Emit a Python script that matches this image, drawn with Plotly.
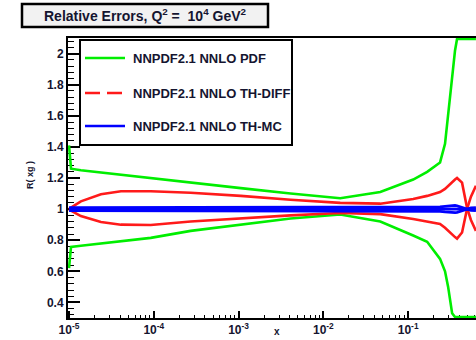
import numpy as np
import plotly.graph_objects as go

# ---- data -------------------------------------------------------------
x_vals = [1.0e-5, 1.056e-5, 1.38e-5, 2.38e-5, 4.1e-5, 9.2e-5, 2.72e-4,
          1.06e-3, 4.1e-3, 1.58e-2, 4.69e-2, 0.1146, 0.1675, 0.2377,
          0.272, 0.296, 0.330, 0.357, 0.377, 0.432, 0.494, 0.55, 0.63]

pdf_up = [1.41, 1.26, 1.25, 1.235, 1.22, 1.20, 1.17, 1.135, 1.10, 1.07,
          1.11, 1.19, 1.24, 1.30, 1.42, 1.62, 1.83, 2.02, 2.15, 2.6, 3.2,
          3.8, 4.5]
pdf_dn = [0.62, 0.757, 0.765, 0.78, 0.795, 0.815, 0.86, 0.90, 0.94, 0.965,
          0.92, 0.83, 0.79, 0.68, 0.60, 0.50, 0.33, 0.22, 0.15, 0.05, 0.0,
          0.0, 0.0]

diff_up = [1.0, 1.01, 1.05, 1.095, 1.115, 1.115, 1.105, 1.085, 1.06, 1.04,
           1.035, 1.065, 1.085, 1.11, 1.13, 1.15, 1.175, 1.19, 1.20, 1.17,
           1.01, 0.93, 0.86]
diff_dn = [1.0, 0.99, 0.955, 0.917, 0.90, 0.898, 0.92, 0.94, 0.96, 0.975,
           0.968, 0.936, 0.92, 0.904, 0.88, 0.86, 0.835, 0.82, 0.81, 0.85,
           1.0, 1.08, 1.15]

mc_cv = [1.0] * len(x_vals)
mc_err = [0.010, 0.010, 0.010, 0.010, 0.010, 0.010, 0.010, 0.010, 0.010,
          0.010, 0.010, 0.010, 0.011, 0.014, 0.018, 0.021, 0.023, 0.023,
          0.021, 0.012, 0.0, 0.008, 0.010]

legend_labels = ["NNPDF2.1 NNLO PDF", "NNPDF2.1 NNLO TH-DIFF",
                 "NNPDF2.1 NNLO TH-MC"]
title_text = "Relative Errors, Q<sup>2</sup> =  10<sup>4</sup> GeV<sup>2</sup>"
x_ticks = [1e-5, 1e-4, 1e-3, 1e-2, 1e-1]
x_tick_text = ["10<sup>-5</sup>", "10<sup>-4</sup>", "10<sup>-3</sup>",
               "10<sup>-2</sup>", "10<sup>-1</sup>"]
y_ticks = [0.4, 0.6, 0.8, 1.0, 1.2, 1.4, 1.6, 1.8, 2.0]
y_tick_text = ["0.4", "0.6", "0.8", "1", "1.2", "1.4", "1.6", "1.8", "2"]

# ---- geometry -----------------------------------------------------------
W, H = 476, 340
Y_MIN, Y_MAX = 0.3, 2.1
X_LOG_MIN, X_LOG_MAX = -5.012, -0.2
x_minor = [k * 10.0 ** e for e in range(-5, 0) for k in range(2, 10)]


def px(x):
    return x / W


def py(y):
    return 1 - y / H


def clip(vals):
    # values outside the frame are drawn along its edge
    inset = 0.006
    return np.clip(np.asarray(vals, float), Y_MIN + inset, Y_MAX - inset)


GREEN, RED, BLUE = "#00ee00", "#ff1a1a", "#0000ff"
FONT = "Liberation Sans"
TXT = "#151530"

fig = go.Figure()
for vals in (pdf_up, pdf_dn):
    fig.add_trace(go.Scatter(x=x_vals, y=clip(vals), mode="lines",
                             line=dict(color=GREEN, width=2.6),
                             showlegend=False, hoverinfo="skip"))
for vals in (diff_up, diff_dn):
    fig.add_trace(go.Scatter(x=x_vals, y=clip(vals), mode="lines",
                             line=dict(color=RED, width=2.6),
                             showlegend=False, hoverinfo="skip"))
mc_up = [c + e for c, e in zip(mc_cv, mc_err)]
mc_dn = [c - e for c, e in zip(mc_cv, mc_err)]
for vals in (mc_up, mc_dn, mc_cv):
    fig.add_trace(go.Scatter(x=x_vals, y=clip(vals), mode="lines",
                             line=dict(color=BLUE, width=2.8),
                             showlegend=False, hoverinfo="skip"))

tick_font = dict(family=FONT, size=12, color=TXT, weight="bold")

fig.update_layout(
    width=W, height=H,
    margin=dict(l=0, r=0, t=0, b=0, autoexpand=False),
    paper_bgcolor="white", plot_bgcolor="white",
    showlegend=False,
    xaxis=dict(type="log", range=[X_LOG_MIN, X_LOG_MAX],
               domain=[68 / W, 1.0], automargin=False,
               showgrid=False, zeroline=False,
               showline=True, linecolor="black", linewidth=2, mirror=True,
               layer="below traces",
               ticks="inside", ticklen=7, tickwidth=1.5, tickcolor="black",
               tickvals=x_ticks, ticktext=x_tick_text,
               minor=dict(ticks="inside", ticklen=3, tickwidth=1.2,
                          tickcolor="black", tickvals=x_minor,
                          showgrid=False),
               tickfont=tick_font),
    yaxis=dict(range=[Y_MIN, Y_MAX],
               domain=[1 - 318 / H, 1 - 38 / H], automargin=False,
               showgrid=False, zeroline=False,
               showline=True, linecolor="black", linewidth=2, mirror=False,
               layer="below traces",
               ticks="inside", ticklen=12, tickwidth=1.5, tickcolor="black",
               tickvals=y_ticks, ticktext=y_tick_text,
               minor=dict(ticks="inside", ticklen=6, tickwidth=1.2,
                          tickcolor="black", dtick=0.04, tick0=0.4,
                          showgrid=False),
               tickfont=tick_font),
)

shapes = []
annotations = []

# title box
shapes.append(dict(type="rect", xref="paper", yref="paper",
                   x0=px(22), x1=px(268), y0=py(27), y1=py(4),
                   line=dict(color="black", width=2.5),
                   fillcolor="#f2f2f2", layer="above"))
annotations.append(dict(xref="paper", yref="paper", x=px(145), y=py(15),
                        text=title_text, showarrow=False,
                        font=dict(family=FONT, size=14, color=TXT,
                                  weight="bold"),
                        xanchor="center", yanchor="middle"))

# legend box
shapes.append(dict(type="rect", xref="paper", yref="paper",
                   x0=px(80), x1=px(292), y0=py(145), y1=py(40),
                   line=dict(color="black", width=2),
                   fillcolor="white", layer="above"))
leg_rows = [58, 93, 126]
leg_colors = [GREEN, RED, BLUE]
leg_dash = ["solid", "15px,7px", "solid"]
for row, col, dash, label in zip(leg_rows, leg_colors, leg_dash,
                                 legend_labels):
    shapes.append(dict(type="line", xref="paper", yref="paper",
                       x0=px(85), x1=px(125), y0=py(row), y1=py(row),
                       line=dict(color=col, width=2.6, dash=dash),
                       layer="above"))
    annotations.append(dict(xref="paper", yref="paper", x=px(131),
                            y=py(row), text=label,
                            showarrow=False, xanchor="left",
                            yanchor="middle",
                            font=dict(family=FONT, size=13, color=TXT,
                                      weight="bold")))

# axis titles
annotations.append(dict(xref="paper", yref="paper", x=px(30), y=py(175),
                        text="R( xg )", textangle=-90,
                        showarrow=False, xanchor="center", yanchor="middle",
                        font=dict(family=FONT, size=9, color=TXT,
                                  weight="bold")))
annotations.append(dict(xref="paper", yref="paper", x=px(277), y=py(339),
                        text="x", showarrow=False, xanchor="center",
                        yanchor="bottom",
                        font=dict(family=FONT, size=10, color=TXT,
                                  weight="bold")))

fig.update_layout(shapes=shapes, annotations=annotations)
fig.write_html("out.html")
